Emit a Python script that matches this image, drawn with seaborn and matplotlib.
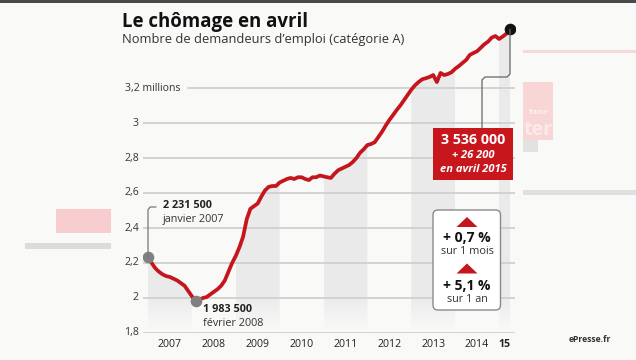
import numpy as np
import pandas as pd
import matplotlib
matplotlib.use("Agg")
import matplotlib.pyplot as plt
import seaborn as sns
from matplotlib.patches import Rectangle, FancyBboxPatch, Polygon
from matplotlib.transforms import IdentityTransform

# Monthly job seekers (category A), millions, Jan 2007 -> Apr 2015
v2007 = [2.2315, 2.200, 2.170, 2.150, 2.135, 2.125, 2.120, 2.110, 2.100, 2.085, 2.070, 2.040]
v2008 = [2.010, 1.9835, 1.990, 2.000, 2.005, 2.020, 2.035, 2.050, 2.070, 2.100, 2.150, 2.200]
v2009 = [2.240, 2.290, 2.350, 2.450, 2.510, 2.525, 2.540, 2.580, 2.615, 2.635, 2.640, 2.640]
v2010 = [2.660, 2.670, 2.680, 2.686, 2.680, 2.690, 2.690, 2.680, 2.674, 2.690, 2.690, 2.700]
v2011 = [2.695, 2.690, 2.686, 2.710, 2.730, 2.740, 2.750, 2.760, 2.777, 2.800, 2.830, 2.850]
v2012 = [2.874, 2.880, 2.890, 2.920, 2.950, 2.985, 3.017, 3.045, 3.074, 3.100, 3.130, 3.160]
v2013 = [3.190, 3.215, 3.234, 3.250, 3.256, 3.263, 3.274, 3.234, 3.286, 3.274, 3.280, 3.290]
v2014 = [3.310, 3.325, 3.343, 3.360, 3.389, 3.400, 3.410, 3.430, 3.450, 3.465, 3.488, 3.497]
v2015 = [3.480, 3.494, 3.510, 3.536]

years = [2007, 2008, 2009, 2010, 2011, 2012, 2013, 2014, 2015]
year_labels = ["2007", "2008", "2009", "2010", "2011", "2012", "2013", "2014", "15"]
shaded_years = [2007, 2009, 2011, 2013, 2015]
y_ticks = [1.8, 2.0, 2.2, 2.4, 2.6, 2.8, 3.0, 3.2]
y_tick_labels = ["1,8", "2", "2,2", "2,4", "2,6", "2,8", "3", "3,2 millions"]

values = v2007 + v2008 + v2009 + v2010 + v2011 + v2012 + v2013 + v2014 + v2015
df = pd.DataFrame({"t": 2007 + np.arange(len(values)) / 12.0, "v": values})

W, H = 636, 360
BG = "#f9f9f8"
RED = "#c4161c"

sns.set_theme(style="white")
plt.rcParams["font.family"] = ["Open Sans", "DejaVu Sans"]

fig = plt.figure(figsize=(W / 100, H / 100), dpi=100, facecolor=BG)
ax = fig.add_axes([143 / W, 1 - 333 / H, 372 / W, 315 / H])
ax.set_facecolor(BG)
XL = (2006.886, 2015.364)
YL = (1.8, 3.6)

# gradient bands under the curve for alternate years
rows = np.linspace(YL[0], YL[1], 400)
t = np.clip((rows - 1.82) / 0.2, 0, 1)
c_bot = np.array([0.975, 0.975, 0.972])
c_top = np.array([0.918, 0.918, 0.918])
grad = c_bot[None, :] * (1 - t[:, None]) + c_top[None, :] * t[:, None]
grad = grad[:, None, :]
for yr in shaded_years:
    sub = df[(df.t >= yr - 1e-6) & (df.t <= yr + 1 + 1e-6)]
    poly = ax.fill_between(sub.t, sub.v, 1.8, facecolor="none", edgecolor="none")
    im = ax.imshow(grad, extent=[yr, yr + 1, YL[0], YL[1]], origin="lower",
                   aspect="auto", zorder=0.5, interpolation="bilinear")
    im.set_clip_path(poly.get_paths()[0], ax.transData)

# grid lines
for yv in y_ticks:
    xmin = 0.121 if yv == 3.2 else 0
    ax.axhline(yv, xmin=xmin, xmax=1, color="#d0d0d0", lw=1.3, zorder=1)

sns.lineplot(data=df, x="t", y="v", ax=ax, color=RED, lw=2.7, zorder=3)

first = df.iloc[0]
low = df.loc[df.v.idxmin()]
last = df.iloc[-1]
ax.scatter([first.t, low.t], [first.v, low.v], s=70, color="#808080", zorder=4, linewidths=0)
ax.scatter([last.t], [last.v], s=70, color="#111111", zorder=4, linewidths=0)

ax.set_xlim(*XL)
ax.set_ylim(*YL)
ax.set_xticks([])
ax.set_yticks([])
ax.set_xlabel("")
ax.set_ylabel("")
sns.despine(ax=ax, left=True, bottom=True)

# y labels
ytr = ax.get_yaxis_transform()
for yv, lab in zip(y_ticks, y_tick_labels):
    if yv == 3.2:
        ax.text(-0.048, yv, lab, transform=ytr, ha="left", va="center", fontsize=7.6, color="#333333")
    else:
        ax.text(-0.011, yv, lab, transform=ytr, ha="right", va="center", fontsize=7.6, color="#333333")

# x labels
xtr = ax.get_xaxis_transform()
for yr, lab in zip(years, year_labels):
    xc = yr + 0.5 if yr < 2015 else (yr + last.t) / 2
    ax.text(xc, -0.035, lab, transform=xtr, ha="center", va="center", fontsize=7.6,
            color="#222222", fontweight="bold" if lab == "15" else "normal")

ID = IdentityTransform()


def dpx(x, y):
    # data -> display pixels measured from top-left
    px, py = ax.transData.transform((x, y))
    return px, H - py


def ftext(x, y, s, **kw):
    fig.text(x, H - y, s, transform=ID, **kw)


def fline(xs, ys, **kw):
    fig.add_artist(plt.Line2D(xs, [H - y for y in ys], transform=ID, **kw))


def frect(x0, y0, x1, y1, **kw):
    fig.add_artist(Rectangle((x0, H - y1), x1 - x0, y1 - y0, transform=ID, **kw))


# title
ftext(122, 27, "Le chômage en avril", fontsize=13.4, fontweight="bold", color="#111111", va="baseline")
ftext(122, 43.5, "Nombre de demandeurs d\u2019emploi (catégorie A)", fontsize=9.3, color="#333333", va="baseline")

# annotation: first point
fx, fy = dpx(first.t, first.v)
fline([fx, fx, fx + 2, fx + 8], [fy, 210, 207, 207], color="#777777", lw=0.9, zorder=2)
ftext(163, 205, "2 231 500", fontsize=7.8, fontweight="bold", color="#222222", va="center")
ftext(163, 219.5, "janvier 2007", fontsize=7.8, color="#333333", va="center")

# annotation: minimum
lx, ly = dpx(low.t, low.v)
ftext(lx + 7, ly + 9, "1 983 500", fontsize=7.8, fontweight="bold", color="#222222", va="center")
ftext(lx + 7, ly + 22.5, "février 2008", fontsize=7.8, color="#333333", va="center")

# annotation: last value
ex, ey = dpx(last.t, last.v)
fline([ex, ex, ex - 3, 485, 482, 482], [ey, 74, 77, 77, 80, 128], color="#666666", lw=0.9)
frect(433, 128, 513, 179.5, facecolor="#c8161d", edgecolor="none")
ftext(473, 139.5, "3 536 000", fontsize=10.3, fontweight="bold", color="white", ha="center", va="center")
ftext(473, 156, "+ 26 200", fontsize=8, fontweight="bold", fontstyle="italic", color="white", ha="center", va="center")
ftext(473, 169.5, "en avril 2015", fontsize=8, fontweight="bold", fontstyle="italic", color="white", ha="center", va="center")

# variation box
fig.add_artist(FancyBboxPatch((433, H - 310), 67.5, 100, boxstyle="round,pad=0,rounding_size=5",
                              transform=ID, facecolor="white", edgecolor="#8a8a8a", lw=1))
for ty in (217, 263.5):
    fig.add_artist(Polygon([[456.5, H - ty - 10], [477.5, H - ty - 10], [467, H - ty]],
                           closed=True, transform=ID, facecolor=RED, edgecolor="none"))
ftext(467, 237.5, "+ 0,7 %", fontsize=10, fontweight="bold", color="#111111", ha="center", va="center")
ftext(467, 252, "sur 1 mois", fontsize=7.8, color="#333333", ha="center", va="center")
ftext(467, 286, "+ 5,1 %", fontsize=10, fontweight="bold", color="#111111", ha="center", va="center")
ftext(467, 300, "sur 1 an", fontsize=7.8, color="#333333", ha="center", va="center")

# broadcast overlays around the graphic
frect(0, 0, W, 2.5, facecolor="#4a4a4a", edgecolor="none")
frect(56, 209, 111, 233, facecolor="#f8cdd0", edgecolor="none")
frect(25, 243, 111, 249, facecolor="#dcdcdc", edgecolor="none")
frect(523, 50, W, 53, facecolor="#f6d8d8", edgecolor="none")
frect(523, 82, 553, 140, facecolor="#f8d6d6", edgecolor="none")
frect(523, 140, 538, 152, facecolor="#e2e2e2", edgecolor="none")
frect(523, 190, W, 195, facecolor="#e0e0e0", edgecolor="none")
ftext(539, 112, "france", fontsize=4.8, color="white", ha="center", va="center")
ftext(552, 130, "ter", fontsize=14, fontweight="bold", color="#fbeaea", ha="right", va="center")
ftext(590, 339, "ePresse.fr", fontsize=6.2, fontweight="bold", color="#333333", ha="center", va="center")

fig.savefig("out.png", dpi=100, facecolor=BG)
